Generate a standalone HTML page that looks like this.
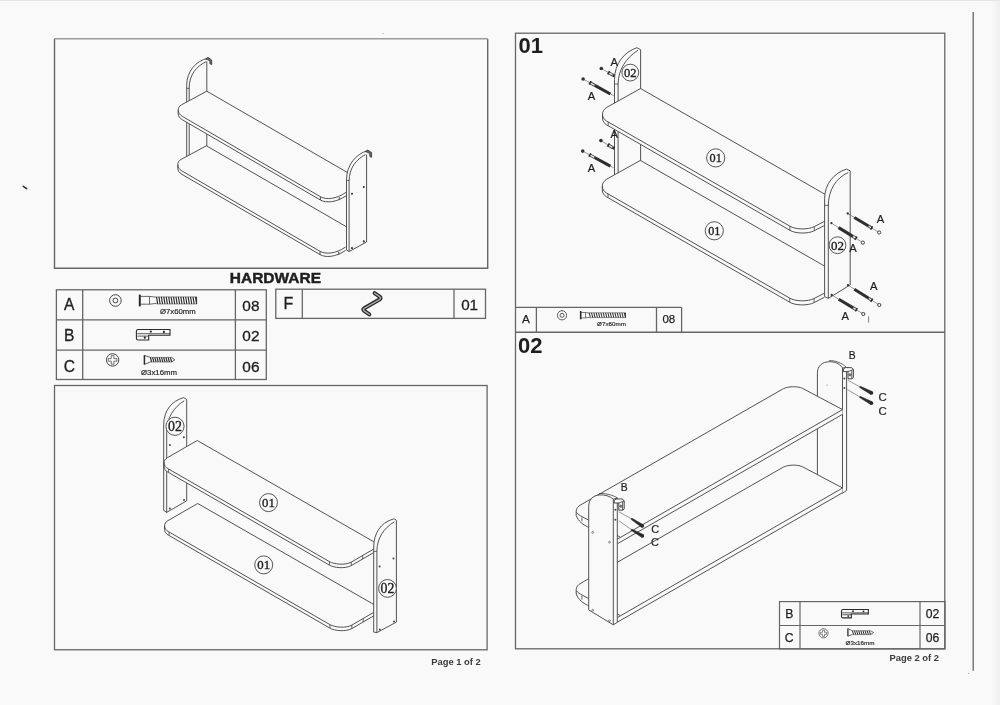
<!DOCTYPE html>
<html><head><meta charset="utf-8"><style>
html,body{margin:0;padding:0;background:#f9f9f9;}
#pg{position:relative;width:1000px;height:705px;overflow:hidden;background:#f9f9f9;filter:grayscale(100%);}
svg{position:absolute;left:0;top:0;}
</style></head><body><div id="pg">
<svg width="1000" height="705" viewBox="0 0 1000 705">
<defs><linearGradient id="rg" x1="0" x2="1" y1="0" y2="0"><stop offset="0" stop-color="#f9f9f9"/><stop offset="1" stop-color="#efefef"/></linearGradient></defs><rect x="991" y="0" width="9" height="705" fill="url(#rg)"/>
<path d="M487.7,38.8 V268.3 H54.5 V38.8" stroke="#666666" stroke-width="1.4" fill="none" />
<line x1="54.5" y1="38.8" x2="487.7" y2="38.8" stroke="#9c9c9c" stroke-width="1.5"/>
<rect x="54.5" y="385.5" width="432.6" height="264.29999999999995" stroke="#666666" stroke-width="1.3" fill="none"/>
<rect x="515.5" y="33.2" width="429.29999999999995" height="615.5999999999999" stroke="#666666" stroke-width="1.3" fill="none"/>
<line x1="515.5" y1="332.3" x2="944.8" y2="332.3" stroke="#666666" stroke-width="1.4"/>
<line x1="973.2" y1="12" x2="973.2" y2="670.8" stroke="#666666" stroke-width="1.3"/>
<text x="518.6" y="52.7" font-family="Liberation Sans" font-size="22" font-weight="bold" text-anchor="start" fill="#1e1e1e" >01</text>
<text x="518.0" y="352.5" font-family="Liberation Sans" font-size="22" font-weight="bold" text-anchor="start" fill="#1e1e1e" >02</text>
<text x="275.4" y="283.0" font-family="Liberation Sans" font-size="15.2" font-weight="bold" text-anchor="middle" fill="#1e1e1e" stroke="#1e1e1e" stroke-width="0.45" textLength="91.2" lengthAdjust="spacingAndGlyphs">HARDWARE</text>
<rect x="56.4" y="289.8" width="209.9" height="89.69999999999999" stroke="#666666" stroke-width="1.3" fill="none"/>
<line x1="82.7" y1="289.8" x2="82.7" y2="379.5" stroke="#666666" stroke-width="1.3"/>
<line x1="235.4" y1="289.8" x2="235.4" y2="379.5" stroke="#666666" stroke-width="1.3"/>
<line x1="56.4" y1="319.8" x2="266.3" y2="319.8" stroke="#666666" stroke-width="1.3"/>
<line x1="56.4" y1="350.1" x2="266.3" y2="350.1" stroke="#666666" stroke-width="1.3"/>
<text x="69.3" y="310.4" font-family="Liberation Sans" font-size="15.6" font-weight="normal" text-anchor="middle" fill="#1e1e1e"  stroke="#1e1e1e" stroke-width="0.3">A</text>
<text x="250.9" y="310.6" font-family="Liberation Sans" font-size="15.4" font-weight="normal" text-anchor="middle" fill="#1e1e1e"  stroke="#1e1e1e" stroke-width="0.3">08</text>
<text x="69.3" y="340.5" font-family="Liberation Sans" font-size="15.6" font-weight="normal" text-anchor="middle" fill="#1e1e1e"  stroke="#1e1e1e" stroke-width="0.3">B</text>
<text x="250.9" y="340.8" font-family="Liberation Sans" font-size="15.4" font-weight="normal" text-anchor="middle" fill="#1e1e1e"  stroke="#1e1e1e" stroke-width="0.3">02</text>
<text x="69.3" y="371.6" font-family="Liberation Sans" font-size="15.6" font-weight="normal" text-anchor="middle" fill="#1e1e1e"  stroke="#1e1e1e" stroke-width="0.3">C</text>
<text x="250.9" y="371.9" font-family="Liberation Sans" font-size="15.4" font-weight="normal" text-anchor="middle" fill="#1e1e1e"  stroke="#1e1e1e" stroke-width="0.3">06</text>
<rect x="275.8" y="289.2" width="209.7" height="29.19999999999999" stroke="#666666" stroke-width="1.3" fill="none"/>
<line x1="302.3" y1="289.2" x2="302.3" y2="318.4" stroke="#666666" stroke-width="1.3"/>
<line x1="454.0" y1="289.2" x2="454.0" y2="318.4" stroke="#666666" stroke-width="1.3"/>
<text x="288.4" y="308.5" font-family="Liberation Sans" font-size="16" font-weight="normal" text-anchor="middle" fill="#1e1e1e"  stroke="#1e1e1e" stroke-width="0.3">F</text>
<text x="469.6" y="309.6" font-family="Liberation Sans" font-size="15.2" font-weight="normal" text-anchor="middle" fill="#1e1e1e"  stroke="#1e1e1e" stroke-width="0.3">01</text>
<circle cx="115.4" cy="300.5" r="5.8" stroke="#333" stroke-width="0.9" fill="none"/>
<circle cx="115.4" cy="300.5" r="2.4" stroke="#333" stroke-width="0.9" fill="none"/>
<path d="M139.8,294.6 V306.4" stroke="#2a2a2a" stroke-width="2.0" fill="none" />
<path d="M139.8,296.4 H149.5 L156.5,297.2 M139.8,304.2 H149.5 L156.5,303.4 M149.5,296.4 V304.2" stroke="#444" stroke-width="0.8" fill="none" />
<path d="M156.50,296.90 H196.60 M156.50,304.00 H196.60" stroke="#555" stroke-width="0.6" fill="none" />
<path d="M156.50,296.90 L157.70,304.00 M158.93,296.90 L160.13,304.00 M161.36,296.90 L162.56,304.00 M163.79,296.90 L164.99,304.00 M166.22,296.90 L167.42,304.00 M168.66,296.90 L169.86,304.00 M171.09,296.90 L172.29,304.00 M173.52,296.90 L174.72,304.00 M175.95,296.90 L177.15,304.00 M178.38,296.90 L179.58,304.00 M180.81,296.90 L182.01,304.00 M183.24,296.90 L184.44,304.00 M185.67,296.90 L186.87,304.00 M188.11,296.90 L189.31,304.00 M190.54,296.90 L191.74,304.00 M192.97,296.90 L194.17,304.00 M195.40,296.90 L196.60,304.00" stroke="#2c2c2c" stroke-width="1.15" fill="none" />
<path d="M196.6,296.9 V304" stroke="#333" stroke-width="1.0" fill="none" />
<text x="177.9" y="313.8" font-family="Liberation Sans" font-size="6.7" font-weight="normal" text-anchor="middle" fill="#1e1e1e" stroke="#222" stroke-width="0.15" textLength="35.7" lengthAdjust="spacingAndGlyphs">Ø7x60mm</text>
<path d="M136.4,331.3 Q136.4,329.5 138.20000000000002,329.5 H170.0 V335.2 H148.70000000000002 V340.0 H138.20000000000002 Q136.4,340.0 136.4,338.2 Z" stroke="#2a2a2a" stroke-width="1.1" fill="none" />
<path d="M137.4,333.7 H170.0 M137.4,336.1 H148.70000000000002" stroke="#333" stroke-width="0.8" fill="none" />
<circle cx="150.8" cy="331.6" r="1.1" fill="#222"/>
<circle cx="163.9" cy="331.9" r="1.1" fill="#222"/>
<circle cx="144.8" cy="337.7" r="1.1" fill="#222"/>
<circle cx="112.6" cy="359.9" r="6.2" stroke="#333" stroke-width="0.9" fill="none"/>
<path d="M111.3,355.6 h2.6 v3 h3 v2.6 h-3 v3 h-2.6 v-3 h-3 v-2.6 h3 Z" stroke="#404040" stroke-width="0.7" fill="none" />
<path d="M144.4,355.2 V364.6" stroke="#2a2a2a" stroke-width="1.5" fill="none" />
<path d="M144.4,355.4 L150.4,357.4 M144.4,364.4 L150.4,362" stroke="#333" stroke-width="0.8" fill="none" />
<path d="M150.40,357.40 H171.60 M150.40,362.00 H171.60" stroke="#555" stroke-width="0.6" fill="none" />
<path d="M150.40,357.40 L151.60,362.00 M152.62,357.40 L153.82,362.00 M154.84,357.40 L156.04,362.00 M157.07,357.40 L158.27,362.00 M159.29,357.40 L160.49,362.00 M161.51,357.40 L162.71,362.00 M163.73,357.40 L164.93,362.00 M165.96,357.40 L167.16,362.00 M168.18,357.40 L169.38,362.00 M170.40,357.40 L171.60,362.00" stroke="#2c2c2c" stroke-width="1.15" fill="none" />
<path d="M171.6,357.4 L174.8,359.8 L171.6,362" stroke="#333" stroke-width="0.8" fill="none" />
<text x="159" y="375.3" font-family="Liberation Sans" font-size="6.8" font-weight="normal" text-anchor="middle" fill="#1e1e1e" stroke="#222" stroke-width="0.15" textLength="36" lengthAdjust="spacingAndGlyphs">Ø3x16mm</text>
<path d="M374.6,293.1 L379.6,296.6 Q381.6,298.2 379.4,299.6 L364.2,308.3 Q362.3,309.6 364.2,310.9 L369.3,314.3" stroke="#262626" stroke-width="4.0" fill="none" stroke-linejoin="round" stroke-linecap="round"/>
<path d="M374.6,293.1 L379.6,296.6 Q381.6,298.2 379.4,299.6 L364.2,308.3 Q362.3,309.6 364.2,310.9 L369.3,314.3" stroke="#a8a8a8" stroke-width="1.5" fill="none" stroke-linejoin="round" stroke-linecap="round"/>
<line x1="515.5" y1="307.3" x2="681.6" y2="307.3" stroke="#666666" stroke-width="1.3"/>
<line x1="536.4" y1="307.3" x2="536.4" y2="332.3" stroke="#666666" stroke-width="1.3"/>
<line x1="656.5" y1="307.3" x2="656.5" y2="332.3" stroke="#666666" stroke-width="1.3"/>
<line x1="681.6" y1="307.3" x2="681.6" y2="332.3" stroke="#666666" stroke-width="1.3"/>
<text x="526" y="323.2" font-family="Liberation Sans" font-size="11.8" font-weight="normal" text-anchor="middle" fill="#1e1e1e"  stroke="#1e1e1e" stroke-width="0.25">A</text>
<text x="668.8" y="323.2" font-family="Liberation Sans" font-size="11.5" font-weight="normal" text-anchor="middle" fill="#1e1e1e"  stroke="#1e1e1e" stroke-width="0.25">08</text>
<circle cx="562" cy="315.3" r="4.6" stroke="#333" stroke-width="0.8" fill="none"/>
<circle cx="562" cy="315.3" r="2.0" stroke="#333" stroke-width="0.8" fill="none"/>
<path d="M580.7,311 V319.3" stroke="#2a2a2a" stroke-width="1.6" fill="none" />
<path d="M580.7,312.5 H585.5 L589.2,313 M580.7,317.9 H585.5 L589.2,317.4 M585.5,312.5 V317.9" stroke="#444" stroke-width="0.7" fill="none" />
<path d="M589.20,312.80 H625.50 M589.20,317.60 H625.50" stroke="#555" stroke-width="0.6" fill="none" />
<path d="M589.20,312.80 L590.40,317.60 M591.54,312.80 L592.74,317.60 M593.88,312.80 L595.08,317.60 M596.22,312.80 L597.42,317.60 M598.56,312.80 L599.76,317.60 M600.90,312.80 L602.10,317.60 M603.24,312.80 L604.44,317.60 M605.58,312.80 L606.78,317.60 M607.92,312.80 L609.12,317.60 M610.26,312.80 L611.46,317.60 M612.60,312.80 L613.80,317.60 M614.94,312.80 L616.14,317.60 M617.28,312.80 L618.48,317.60 M619.62,312.80 L620.82,317.60 M621.96,312.80 L623.16,317.60 M624.30,312.80 L625.50,317.60" stroke="#2c2c2c" stroke-width="1.0" fill="none" />
<path d="M625.5,312.8 V317.6" stroke="#333" stroke-width="0.9" fill="none" />
<text x="611.5" y="326.3" font-family="Liberation Sans" font-size="5.8" font-weight="normal" text-anchor="middle" fill="#1e1e1e" stroke="#222" stroke-width="0.15" textLength="28.8" lengthAdjust="spacingAndGlyphs">Ø7x60mm</text>
<rect x="779.5" y="601.6" width="165.5" height="47.299999999999955" stroke="#666666" stroke-width="1.2" fill="none"/>
<line x1="800" y1="601.6" x2="800" y2="648.9" stroke="#666666" stroke-width="1.2"/>
<line x1="920" y1="601.6" x2="920" y2="648.9" stroke="#666666" stroke-width="1.2"/>
<line x1="779.5" y1="625.5" x2="945" y2="625.5" stroke="#666666" stroke-width="1.2"/>
<text x="789.2" y="617.8" font-family="Liberation Sans" font-size="12.2" font-weight="normal" text-anchor="middle" fill="#1e1e1e"  stroke="#1e1e1e" stroke-width="0.25">B</text>
<text x="789.2" y="641.9" font-family="Liberation Sans" font-size="12.2" font-weight="normal" text-anchor="middle" fill="#1e1e1e"  stroke="#1e1e1e" stroke-width="0.25">C</text>
<text x="932.6" y="617.8" font-family="Liberation Sans" font-size="12.2" font-weight="normal" text-anchor="middle" fill="#1e1e1e"  stroke="#1e1e1e" stroke-width="0.25">02</text>
<text x="932.6" y="641.9" font-family="Liberation Sans" font-size="12.2" font-weight="normal" text-anchor="middle" fill="#1e1e1e"  stroke="#1e1e1e" stroke-width="0.25">06</text>
<path d="M841.5,610.94 Q841.5,609.5 842.94,609.5 H868.38 V614.06 H851.34 V617.9 H842.94 Q841.5,617.9 841.5,616.46 Z" stroke="#2a2a2a" stroke-width="1.1" fill="none" />
<path d="M842.3,612.86 H868.38 M842.3,614.78 H851.34" stroke="#333" stroke-width="0.8" fill="none" />
<circle cx="853.02" cy="611.18" r="0.8800000000000001" fill="#222"/>
<circle cx="863.5" cy="611.42" r="0.8800000000000001" fill="#222"/>
<circle cx="848.22" cy="616.06" r="0.8800000000000001" fill="#222"/>
<circle cx="823.5" cy="633.3" r="4.6" stroke="#404040" stroke-width="0.7" fill="none"/>
<path d="M822.5,630.2 h2 v2.1 h2.1 v2 h-2.1 v2.1 h-2 v-2.1 h-2.1 v-2 h2.1 Z" stroke="#404040" stroke-width="0.6" fill="none" />
<path d="M847.9,628.4 V636.2" stroke="#2a2a2a" stroke-width="1.3" fill="none" />
<path d="M847.9,628.6 L852.4,630.7 M847.9,636 L852.4,634.6" stroke="#333" stroke-width="0.7" fill="none" />
<path d="M852.40,630.70 H870.50 M852.40,634.60 H870.50" stroke="#555" stroke-width="0.6" fill="none" />
<path d="M852.40,630.70 L853.60,634.60 M854.51,630.70 L855.71,634.60 M856.62,630.70 L857.83,634.60 M858.74,630.70 L859.94,634.60 M860.85,630.70 L862.05,634.60 M862.96,630.70 L864.16,634.60 M865.08,630.70 L866.28,634.60 M867.19,630.70 L868.39,634.60 M869.30,630.70 L870.50,634.60" stroke="#2c2c2c" stroke-width="1.0" fill="none" />
<path d="M870.5,630.7 L873.6,632.6 L870.5,634.6" stroke="#333" stroke-width="0.7" fill="none" />
<text x="860" y="645.2" font-family="Liberation Sans" font-size="5.8" font-weight="normal" text-anchor="middle" fill="#1e1e1e" stroke="#222" stroke-width="0.15" textLength="28.9" lengthAdjust="spacingAndGlyphs">Ø3x16mm</text>
<text x="456" y="664.6" font-family="Liberation Sans" font-size="9.4" font-weight="bold" text-anchor="middle" fill="#3a3a3a" >Page 1 of 2</text>
<text x="914.2" y="660.8" font-family="Liberation Sans" font-size="9.4" font-weight="bold" text-anchor="middle" fill="#3a3a3a" >Page 2 of 2</text>
<path d="M186.7,166 V85.5 C186.7,71 196,61 207.7,58.2" stroke="#404040" stroke-width="0.9" fill="none" />
<path d="M189.2,166 V87.8 C189.2,75 196.5,66 206.2,61.7" stroke="#404040" stroke-width="0.9" fill="none" />
<path d="M186.7,88.3 H189.2" stroke="#404040" stroke-width="0.8" fill="none" />
<path d="M206.8,61.5 V150" stroke="#404040" stroke-width="0.9" fill="none" />
<path d="M205.6,59 L207.9,57.4 L211.7,60 V64.6 L209.9,63.8 V60.9 L207.6,59.8 Z" stroke="#333" stroke-width="0.8" fill="#6a6a6a" />
<path d="M206.8,91.2 L181.5,104.8 C179.0,106.2 178.2,108.0 178.2,110.2 L178.2,113.6 C178.2,115.9 179.5,118.2 182.4,119.8 L320.4,200.0 C326.0,203.2 336.0,202.6 346.0,195.8 L347.1,172.3 Z" stroke="none" stroke-width="0" fill="#f9f9f9" />
<path d="M347.1,172.3 L206.8,91.2 L181.5,104.8 C179.0,106.2 178.2,108.0 178.2,110.2 C178.2,112.5 179.5,114.8 182.4,116.4 L320.4,196.7 C326.0,199.9 336.0,199.3 346.0,192.4" stroke="#404040" stroke-width="0.9" fill="none" />
<path d="M178.2,110.2 L178.2,113.6 C178.2,115.9 179.5,118.2 182.4,119.8 L320.4,200.0 C326.0,203.2 336.0,202.6 346.0,195.8" stroke="#404040" stroke-width="0.9" fill="none" />
<path d="M320.4,196.7 L320.4,200.0 M339.2,197.0 L339.2,200.2" stroke="#404040" stroke-width="0.9" fill="none" />
<path d="M206.4,145.8 L181.1,159.4 C178.6,160.8 177.8,162.6 177.8,164.8 L177.8,168.2 C177.8,170.5 179.1,172.8 182.0,174.4 L320.0,254.6 C325.6,257.8 335.6,257.2 345.6,250.4 L346.7,226.9 Z" stroke="none" stroke-width="0" fill="#f9f9f9" />
<path d="M346.7,226.9 L206.4,145.8 L181.1,159.4 C178.6,160.8 177.8,162.6 177.8,164.8 C177.8,167.1 179.1,169.4 182.0,171.0 L320.0,251.3 C325.6,254.5 335.6,253.9 345.6,247.0" stroke="#404040" stroke-width="0.9" fill="none" />
<path d="M177.8,164.8 L177.8,168.2 C177.8,170.5 179.1,172.8 182.0,174.4 L320.0,254.6 C325.6,257.8 335.6,257.2 345.6,250.4" stroke="#404040" stroke-width="0.9" fill="none" />
<path d="M320.0,251.3 L320.0,254.6 M338.8,251.6 L338.8,254.8" stroke="#404040" stroke-width="0.9" fill="none" />
<path d="M346.5,250 V179.8 C346.5,165 356,154 367.3,150.7 L366.6,154.6 V242 L349.1,251.5 Z" stroke="none" stroke-width="0" fill="#f9f9f9" />
<path d="M346.5,250 V179.8 C346.5,165 356,154 367.3,150.7" stroke="#404040" stroke-width="0.9" fill="none" />
<path d="M349.1,251.5 V181.2 C349.1,168 356.5,159 365.5,154.6" stroke="#404040" stroke-width="0.9" fill="none" />
<path d="M366.6,154.6 V242 L349.1,251.5 L346.5,250" stroke="#404040" stroke-width="0.9" fill="none" />
<path d="M346.5,180.5 H349.1" stroke="#404040" stroke-width="0.8" fill="none" />
<path d="M365.4,151.6 L367.7,150 L371.6,152.6 V157.3 L369.8,156.5 V153.5 L367.5,152.4 Z" stroke="#333" stroke-width="0.8" fill="#6a6a6a" />
<circle cx="363.8" cy="187" r="1.05" fill="#333"/>
<circle cx="352" cy="193.8" r="1.05" fill="#333"/>
<circle cx="363.8" cy="241.4" r="1.05" fill="#333"/>
<circle cx="352" cy="248.1" r="1.05" fill="#333"/>
<path d="M163.7,510.4 V425 C163.7,410 172,401 183.5,397.6 L186.7,399.4 V500.8 L166.7,512.4 Z" stroke="none" stroke-width="0" fill="#f9f9f9" />
<path d="M163.7,510.4 V425 C163.7,410 172,401 183.5,397.6" stroke="#404040" stroke-width="0.9" fill="none" />
<path d="M166.7,512.4 V431.3 C166.7,418 174,407 184.2,400.8" stroke="#404040" stroke-width="0.9" fill="none" />
<path d="M183.5,397.6 L186.7,399.4 V500.8 L166.7,512.4 L163.7,510.4" stroke="#404040" stroke-width="0.9" fill="none" />
<circle cx="183.8" cy="437.2" r="1.0" fill="#444"/>
<circle cx="169.9" cy="445.1" r="1.0" fill="#444"/>
<circle cx="184" cy="500" r="1.0" fill="#444"/>
<circle cx="169.9" cy="508.5" r="1.0" fill="#444"/>
<path d="M197.2,440.5 L167.5,457.6 C165.0,459.0 164.1,460.8 164.1,463.0 L164.1,466.5 C164.1,469.0 165.5,471.0 168.4,472.4 L329.4,565.1 C334.0,567.8 345.0,569.0 351.3,565.6 L373.7,552.6 L373.7,541.7 Z" stroke="none" stroke-width="0" fill="#f9f9f9" />
<path d="M373.7,541.7 L197.2,440.5 L167.5,457.6 C165.0,459.0 164.1,460.8 164.1,463.0 C164.1,465.5 165.5,467.5 168.4,468.9 L329.4,561.6 C334.0,564.3 345.0,565.5 351.3,562.1 L373.7,549.1" stroke="#404040" stroke-width="0.9" fill="none" />
<path d="M164.1,463.0 L164.1,466.5 C164.1,469.0 165.5,471.0 168.4,472.4 L329.4,565.1 C334.0,567.8 345.0,569.0 351.3,565.6 L373.7,552.6" stroke="#404040" stroke-width="0.9" fill="none" />
<path d="M329.4,561.6 L329.4,565.1 M351.3,562.1 L351.3,565.6 M362.7,555.6 L362.7,559.1 M168.6,469.0 L168.6,472.4" stroke="#404040" stroke-width="0.8" fill="none" />
<path d="M197.7,503.5 L168.0,520.6 C165.5,522.0 164.6,523.8 164.6,526.0 L164.6,529.5 C164.6,532.0 166.0,534.0 168.9,535.4 L329.9,628.1 C334.5,630.8 345.5,632.0 351.8,628.6 L374.2,615.6 L374.2,604.7 Z" stroke="none" stroke-width="0" fill="#f9f9f9" />
<path d="M374.2,604.7 L197.7,503.5 L168.0,520.6 C165.5,522.0 164.6,523.8 164.6,526.0 C164.6,528.5 166.0,530.5 168.9,531.9 L329.9,624.6 C334.5,627.3 345.5,628.5 351.8,625.1 L374.2,612.1" stroke="#404040" stroke-width="0.9" fill="none" />
<path d="M164.6,526.0 L164.6,529.5 C164.6,532.0 166.0,534.0 168.9,535.4 L329.9,628.1 C334.5,630.8 345.5,632.0 351.8,628.6 L374.2,615.6" stroke="#404040" stroke-width="0.9" fill="none" />
<path d="M329.9,624.6 L329.9,628.1 M351.8,625.1 L351.8,628.6 M363.2,618.6 L363.2,622.1 M169.1,532.0 L169.1,535.4" stroke="#404040" stroke-width="0.8" fill="none" />
<path d="M373.7,632.1 V547 C373.7,533 381,523 392.1,519.4 C394,518.6 395.8,519.2 396.4,520.6 V622.1 L376.9,632.6 Z" stroke="none" stroke-width="0" fill="#f9f9f9" />
<path d="M373.7,632.1 V547 C373.7,533 381,523 392.1,519.4 C394,518.6 395.8,519.2 396.4,520.6" stroke="#404040" stroke-width="0.9" fill="none" />
<path d="M376.9,632.6 V551.6 C376.9,538 384,528 394.2,521.9" stroke="#404040" stroke-width="0.9" fill="none" />
<path d="M396.4,520.4 V622.1 L376.9,632.6 L373.7,632.1" stroke="#404040" stroke-width="0.9" fill="none" />
<path d="M373.7,551.4 H376.9" stroke="#404040" stroke-width="0.8" fill="none" />
<circle cx="393.5" cy="558.6" r="1.0" fill="#444"/>
<circle cx="379.6" cy="566.6" r="1.0" fill="#444"/>
<circle cx="394" cy="621.6" r="1.0" fill="#444"/>
<circle cx="379.8" cy="629.6" r="1.0" fill="#444"/>
<circle cx="175" cy="426.3" r="9.1" stroke="#444" stroke-width="0.9" fill="#f9f9f9"/>
<text x="175" y="430.992" font-family="Liberation Serif" font-size="13.8" font-weight="normal" text-anchor="middle" fill="#1e1e1e" stroke="#1e1e1e" stroke-width="0.35">02</text>
<circle cx="387.5" cy="588.4" r="8.9" stroke="#444" stroke-width="0.9" fill="#f9f9f9"/>
<text x="387.5" y="593.092" font-family="Liberation Serif" font-size="13.8" font-weight="normal" text-anchor="middle" fill="#1e1e1e" stroke="#1e1e1e" stroke-width="0.35">02</text>
<circle cx="268.5" cy="502.6" r="9.0" stroke="#444" stroke-width="0.9" fill="#f9f9f9"/>
<text x="268.5" y="506.952" font-family="Liberation Serif" font-size="12.8" font-weight="normal" text-anchor="middle" fill="#1e1e1e" stroke="#1e1e1e" stroke-width="0.35">01</text>
<circle cx="263.7" cy="564.9" r="9.0" stroke="#444" stroke-width="0.9" fill="#f9f9f9"/>
<text x="263.7" y="569.252" font-family="Liberation Serif" font-size="12.8" font-weight="normal" text-anchor="middle" fill="#1e1e1e" stroke="#1e1e1e" stroke-width="0.35">01</text>
<path d="M614.5,176 V79.5 C614.5,64 624,52 636.9,47.7 L640.4,49.6 V170 L618,176 Z" stroke="none" stroke-width="0" fill="#f9f9f9" />
<path d="M614.5,176 V79.5 C614.5,64 624,52 636.9,47.7" stroke="#404040" stroke-width="0.9" fill="none" />
<path d="M618.1,176 V84 C618.1,70 626,58 638,50.2" stroke="#404040" stroke-width="0.9" fill="none" />
<path d="M636.9,47.7 L640.6,49.7 V165" stroke="#404040" stroke-width="0.9" fill="none" />
<path d="M614.5,84 H618.1" stroke="#404040" stroke-width="0.8" fill="none" />
<path d="M640.6,88.5 L607.0,107.2 C604.0,109.0 602.5,111.5 602.5,114.3 L602.5,118.1 C602.5,120.8 604.0,123.3 606.5,124.8 L789.9,230.3 C795.0,233.6 808.0,234.1 814.3,230.7 L824.6,225.4 L825.5,194.6 Z" stroke="none" stroke-width="0" fill="#f9f9f9" />
<path d="M825.5,194.6 L640.6,88.5 L607.0,107.2 C604.0,109.0 602.5,111.5 602.5,114.3 C602.5,117.0 604.0,119.5 606.5,121.0 L789.9,226.2 C795.0,229.5 808.0,230.0 814.3,226.6 L824.6,221.3" stroke="#404040" stroke-width="0.9" fill="none" />
<path d="M602.5,114.3 L602.5,118.1 C602.5,120.8 604.0,123.3 606.5,124.8 L789.9,230.3 C795.0,233.6 808.0,234.1 814.3,230.7 L824.6,225.4" stroke="#404040" stroke-width="0.9" fill="none" />
<path d="M789.9,226.2 L789.9,230.3 M814.3,226.6 L814.3,230.7 M608.2,121.8 L608.2,125.6" stroke="#404040" stroke-width="0.8" fill="none" />
<path d="M640.4,160.4 L606.8,179.1 C603.8,180.9 602.3,183.4 602.3,186.2 L602.3,190.0 C602.3,192.7 603.8,195.2 606.3,196.7 L789.7,302.2 C794.8,305.5 807.8,306.0 814.1,302.6 L824.4,297.3 L825.3,266.5 Z" stroke="none" stroke-width="0" fill="#f9f9f9" />
<path d="M825.3,266.5 L640.4,160.4 L606.8,179.1 C603.8,180.9 602.3,183.4 602.3,186.2 C602.3,188.9 603.8,191.4 606.3,192.9 L789.7,298.1 C794.8,301.4 807.8,301.9 814.1,298.5 L824.4,293.2" stroke="#404040" stroke-width="0.9" fill="none" />
<path d="M602.3,186.2 L602.3,190.0 C602.3,192.7 603.8,195.2 606.3,196.7 L789.7,302.2 C794.8,305.5 807.8,306.0 814.1,302.6 L824.4,297.3" stroke="#404040" stroke-width="0.9" fill="none" />
<path d="M789.7,298.1 L789.7,302.2 M814.1,298.5 L814.1,302.6 M608.0,193.7 L608.0,197.5" stroke="#404040" stroke-width="0.8" fill="none" />
<path d="M824.6,296.6 V198.6 C824.6,184 834,173 846.5,169.1 L849.9,170.8 V284.9 L828.3,298.4 Z" stroke="none" stroke-width="0" fill="#f9f9f9" />
<path d="M824.6,296.6 V198.6 C824.6,184 834,173 846.5,169.1" stroke="#404040" stroke-width="0.9" fill="none" />
<path d="M828.3,298.4 V206 C828.3,190 836,178 848.2,172.5" stroke="#404040" stroke-width="0.9" fill="none" />
<path d="M846.5,169.1 L850.2,170.8 V284.9 L828.3,298.4 L824.6,296.6" stroke="#404040" stroke-width="0.9" fill="none" />
<path d="M824.6,205.3 H828.3" stroke="#404040" stroke-width="0.8" fill="none" />
<circle cx="630.3" cy="72.6" r="8.4" stroke="#444" stroke-width="0.9" fill="#f9f9f9"/>
<text x="630.3" y="76.884" font-family="Liberation Serif" font-size="12.6" font-weight="normal" text-anchor="middle" fill="#1e1e1e" stroke="#1e1e1e" stroke-width="0.35">02</text>
<circle cx="837.5" cy="245.2" r="8.4" stroke="#444" stroke-width="0.9" fill="#f9f9f9"/>
<text x="837.5" y="249.61999999999998" font-family="Liberation Serif" font-size="13" font-weight="normal" text-anchor="middle" fill="#1e1e1e" stroke="#1e1e1e" stroke-width="0.35">02</text>
<circle cx="715.7" cy="157.9" r="9.1" stroke="#444" stroke-width="0.9" fill="#f9f9f9"/>
<text x="715.7" y="162.048" font-family="Liberation Serif" font-size="12.2" font-weight="normal" text-anchor="middle" fill="#1e1e1e" stroke="#1e1e1e" stroke-width="0.35">01</text>
<circle cx="714.3" cy="230.8" r="9.1" stroke="#444" stroke-width="0.9" fill="#f9f9f9"/>
<text x="714.3" y="234.948" font-family="Liberation Serif" font-size="12.2" font-weight="normal" text-anchor="middle" fill="#1e1e1e" stroke="#1e1e1e" stroke-width="0.35">01</text>
<line x1="614.4" y1="76.0" x2="601.3" y2="68.5" stroke="#555" stroke-width="0.6"/>
<line x1="614.4" y1="76.0" x2="612.8" y2="75.1" stroke="#2e2e2e" stroke-width="3.0"/>
<line x1="612.8" y1="75.1" x2="608.6" y2="72.7" stroke="#3a3a3a" stroke-width="3.0"/>
<line x1="612.5" y1="74.9" x2="609.0" y2="72.9" stroke="#f2f2f2" stroke-width="1.3"/>
<line x1="607.7" y1="74.3" x2="609.6" y2="71.1" stroke="#2e2e2e" stroke-width="1.6"/>
<circle cx="601.3" cy="68.5" r="1.8" fill="#333"/>
<line x1="613.8" y1="95.8" x2="583.1" y2="79.0" stroke="#555" stroke-width="0.6"/>
<line x1="610.4" y1="94.0" x2="594.8" y2="85.4" stroke="#2e2e2e" stroke-width="3.0"/>
<line x1="594.8" y1="85.4" x2="590.2" y2="82.9" stroke="#3a3a3a" stroke-width="3.0"/>
<line x1="594.4" y1="85.2" x2="590.5" y2="83.1" stroke="#f2f2f2" stroke-width="1.3"/>
<line x1="589.2" y1="84.5" x2="591.1" y2="81.2" stroke="#2e2e2e" stroke-width="1.6"/>
<circle cx="583.1" cy="79.0" r="1.8" fill="#333"/>
<line x1="614.3" y1="148.6" x2="600.9" y2="140.6" stroke="#555" stroke-width="0.6"/>
<line x1="614.3" y1="148.6" x2="612.7" y2="147.6" stroke="#2e2e2e" stroke-width="3.0"/>
<line x1="612.7" y1="147.6" x2="608.4" y2="145.1" stroke="#3a3a3a" stroke-width="3.0"/>
<line x1="612.3" y1="147.4" x2="608.7" y2="145.3" stroke="#f2f2f2" stroke-width="1.3"/>
<line x1="607.4" y1="146.7" x2="609.4" y2="143.4" stroke="#2e2e2e" stroke-width="1.6"/>
<circle cx="600.9" cy="140.6" r="1.8" fill="#333"/>
<line x1="613.8" y1="167.9" x2="582.7" y2="151.1" stroke="#555" stroke-width="0.6"/>
<line x1="610.4" y1="166.1" x2="594.5" y2="157.5" stroke="#2e2e2e" stroke-width="3.0"/>
<line x1="594.5" y1="157.5" x2="589.9" y2="155.0" stroke="#3a3a3a" stroke-width="3.0"/>
<line x1="594.2" y1="157.3" x2="590.2" y2="155.2" stroke="#f2f2f2" stroke-width="1.3"/>
<line x1="588.9" y1="156.6" x2="590.8" y2="153.3" stroke="#2e2e2e" stroke-width="1.6"/>
<circle cx="582.7" cy="151.1" r="1.8" fill="#333"/>
<line x1="847.7" y1="213.5" x2="879.2" y2="232.5" stroke="#555" stroke-width="0.6"/>
<line x1="854.3" y1="217.5" x2="868.5" y2="226.0" stroke="#2e2e2e" stroke-width="3.0"/>
<line x1="868.5" y1="226.0" x2="871.6" y2="227.9" stroke="#3a3a3a" stroke-width="3.0"/>
<line x1="868.8" y1="226.2" x2="871.3" y2="227.7" stroke="#f2f2f2" stroke-width="1.3"/>
<line x1="872.6" y1="226.3" x2="870.7" y2="229.6" stroke="#2e2e2e" stroke-width="1.6"/>
<circle cx="879.2" cy="232.5" r="1.6" stroke="#333" stroke-width="0.9" fill="#f9f9f9"/>
<circle cx="847.7" cy="213.5" r="1.15" fill="#333"/>
<line x1="831.4" y1="223.1" x2="862.9" y2="242.6" stroke="#555" stroke-width="0.6"/>
<line x1="838.6" y1="227.6" x2="852.8" y2="236.4" stroke="#2e2e2e" stroke-width="3.0"/>
<line x1="852.8" y1="236.4" x2="856.0" y2="238.3" stroke="#3a3a3a" stroke-width="3.0"/>
<line x1="853.2" y1="236.6" x2="855.6" y2="238.1" stroke="#f2f2f2" stroke-width="1.3"/>
<line x1="857.0" y1="236.7" x2="855.0" y2="239.9" stroke="#2e2e2e" stroke-width="1.6"/>
<circle cx="862.9" cy="242.6" r="1.6" stroke="#333" stroke-width="0.9" fill="#f9f9f9"/>
<circle cx="831.4" cy="223.1" r="1.15" fill="#333"/>
<line x1="848.0" y1="285.2" x2="879.3" y2="305.0" stroke="#555" stroke-width="0.6"/>
<line x1="854.3" y1="289.2" x2="868.7" y2="298.3" stroke="#2e2e2e" stroke-width="3.0"/>
<line x1="868.7" y1="298.3" x2="871.8" y2="300.2" stroke="#3a3a3a" stroke-width="3.0"/>
<line x1="869.0" y1="298.5" x2="871.4" y2="300.0" stroke="#f2f2f2" stroke-width="1.3"/>
<line x1="872.8" y1="298.6" x2="870.8" y2="301.9" stroke="#2e2e2e" stroke-width="1.6"/>
<circle cx="879.3" cy="305.0" r="1.6" stroke="#333" stroke-width="0.9" fill="#f9f9f9"/>
<circle cx="848.0" cy="285.2" r="1.15" fill="#333"/>
<line x1="831.7" y1="295.0" x2="863.3" y2="314.0" stroke="#555" stroke-width="0.6"/>
<line x1="838.7" y1="299.2" x2="853.2" y2="307.9" stroke="#2e2e2e" stroke-width="3.0"/>
<line x1="853.2" y1="307.9" x2="856.3" y2="309.8" stroke="#3a3a3a" stroke-width="3.0"/>
<line x1="853.5" y1="308.1" x2="856.0" y2="309.6" stroke="#f2f2f2" stroke-width="1.3"/>
<line x1="857.3" y1="308.2" x2="855.4" y2="311.4" stroke="#2e2e2e" stroke-width="1.6"/>
<circle cx="863.3" cy="314.0" r="1.6" stroke="#333" stroke-width="0.9" fill="#f9f9f9"/>
<circle cx="831.7" cy="295.0" r="1.15" fill="#333"/>
<text x="614.2" y="65.6" font-family="Liberation Sans" font-size="11.2" font-weight="normal" text-anchor="middle" fill="#1e1e1e"  stroke="#1e1e1e" stroke-width="0.2">A</text>
<text x="591.6" y="100.4" font-family="Liberation Sans" font-size="11.2" font-weight="normal" text-anchor="middle" fill="#1e1e1e"  stroke="#1e1e1e" stroke-width="0.2">A</text>
<text x="614.2" y="137.6" font-family="Liberation Sans" font-size="11.2" font-weight="normal" text-anchor="middle" fill="#1e1e1e"  stroke="#1e1e1e" stroke-width="0.2">A</text>
<text x="591.5" y="172.0" font-family="Liberation Sans" font-size="11.2" font-weight="normal" text-anchor="middle" fill="#1e1e1e"  stroke="#1e1e1e" stroke-width="0.2">A</text>
<text x="880.6" y="223.4" font-family="Liberation Sans" font-size="11.2" font-weight="normal" text-anchor="middle" fill="#1e1e1e"  stroke="#1e1e1e" stroke-width="0.2">A</text>
<text x="853" y="251.6" font-family="Liberation Sans" font-size="11.2" font-weight="normal" text-anchor="middle" fill="#1e1e1e"  stroke="#1e1e1e" stroke-width="0.2">A</text>
<text x="873.8" y="290.2" font-family="Liberation Sans" font-size="11.2" font-weight="normal" text-anchor="middle" fill="#1e1e1e"  stroke="#1e1e1e" stroke-width="0.2">A</text>
<text x="845.2" y="319.8" font-family="Liberation Sans" font-size="11.2" font-weight="normal" text-anchor="middle" fill="#1e1e1e"  stroke="#1e1e1e" stroke-width="0.2">A</text>
<line x1="868.6" y1="316.2" x2="868.6" y2="322.7" stroke="#666" stroke-width="0.8"/>
<path d="M817.4,480 V373.4 C817.4,366 822,361.7 829.9,361.7 C834,361.7 839,363 842.5,367.8 V492 Z" stroke="none" stroke-width="0" fill="#f9f9f9" />
<path d="M817.4,480 V373.4 C817.4,366 822,361.7 829.9,361.7 C834,361.7 839,363 842.5,367.8" stroke="#404040" stroke-width="0.9" fill="none" />
<path d="M829.2,360.6 C834,360.4 842,362.4 846.6,367.6 M842.5,367.8 L846.6,367.6" stroke="#404040" stroke-width="0.8" fill="none" />
<path d="M842.5,367.8 V493.2 L846.6,490.4 V372" stroke="#404040" stroke-width="0.9" fill="none" />
<circle cx="827" cy="385.1" r="0.6" fill="#777"/>
<path d="M620.0,537.0 L580.0,515.2 C576.5,513.0 576.2,512.0 576.2,511.2 C576.2,508.5 578.0,506.3 581.0,504.7 L783.5,388.6 C788.0,386.5 797.0,385.8 802.6,388.4 L842.6,409.6 L842.6,414.3 L617.5,543.7 L588.4,527.2 C583.0,525.0 578.0,521.0 576.2,515.5 Z" stroke="none" stroke-width="0" fill="#f9f9f9" />
<path d="M842.6,409.6 L802.6,388.4 C797.0,385.8 788.0,386.5 783.5,388.6 L581.0,504.7 C578.0,506.3 576.2,508.5 576.2,511.2 L576.2,515.5 C578.0,521.0 583.0,525.0 590.0,528.0" stroke="#404040" stroke-width="0.9" fill="none" />
<path d="M576.6,512.4 C578.0,514.5 580.0,515.5 582.0,516.6 L620.0,537.0" stroke="#404040" stroke-width="0.9" fill="none" />
<path d="M581.9,517.4 L581.9,521.3" stroke="#404040" stroke-width="0.8" fill="none" />
<path d="M617.5,539.1 L842.6,409.6 M617.5,543.7 L842.6,414.3" stroke="#404040" stroke-width="0.9" fill="none" />
<path d="M620.0,615.4 L580.0,593.6 C576.5,591.4 576.2,590.4 576.2,589.6 C576.2,586.9 578.0,584.7 581.0,583.1 L783.5,467.0 C788.0,464.9 797.0,464.2 802.6,466.8 L842.6,488.0 L842.6,492.7 L617.5,622.1 L588.4,605.6 C583.0,603.4 578.0,599.4 576.2,593.9 Z" stroke="none" stroke-width="0" fill="#f9f9f9" />
<path d="M842.6,488.0 L802.6,466.8 C797.0,464.2 788.0,464.9 783.5,467.0 L581.0,583.1 C578.0,584.7 576.2,586.9 576.2,589.6 L576.2,593.9 C578.0,599.4 583.0,603.4 590.0,606.4" stroke="#404040" stroke-width="0.9" fill="none" />
<path d="M576.6,590.8 C578.0,592.9 580.0,593.9 582.0,595.0 L620.0,615.4" stroke="#404040" stroke-width="0.9" fill="none" />
<path d="M581.9,595.8 L581.9,599.7" stroke="#404040" stroke-width="0.8" fill="none" />
<path d="M617.5,617.5 L842.6,488.0 M617.5,622.1 L842.6,492.7" stroke="#404040" stroke-width="0.9" fill="none" />
<path d="M588.7,609.9 V506.3 C588.7,500 592.5,495.4 599.8,494.9 C604.5,494.6 610,496 613.3,499.2 V624.8 Z" stroke="none" stroke-width="0" fill="#f9f9f9" />
<path d="M613.3,499.2 L617.3,498 V622.4 L613.3,624.8 Z" stroke="none" stroke-width="0" fill="#f9f9f9" />
<path d="M588.7,609.9 V506.3 C588.7,500 592.5,495.4 599.8,494.9 C604.5,494.6 610,496 613.3,499.2" stroke="#404040" stroke-width="0.9" fill="none" />
<path d="M599,493.6 C604,493 612,494.5 617.6,498" stroke="#404040" stroke-width="0.8" fill="none" />
<path d="M613.3,499.2 V624.8 M617.3,498 V622.4 M588.7,609.9 L613.3,624.8 L617.3,622.4 M613.3,499.2 L617.3,498" stroke="#404040" stroke-width="0.9" fill="none" />
<circle cx="592.7" cy="532.4" r="0.9" stroke="#444" stroke-width="0.6" fill="none"/>
<circle cx="609.5" cy="542.2" r="0.9" stroke="#444" stroke-width="0.6" fill="none"/>
<circle cx="592.7" cy="610.2" r="0.9" stroke="#444" stroke-width="0.6" fill="none"/>
<circle cx="609.5" cy="620.7" r="0.9" stroke="#444" stroke-width="0.6" fill="none"/>
<circle cx="615.4" cy="509.7" r="1.0" fill="#444"/>
<circle cx="615.4" cy="519.7" r="1.0" fill="#444"/>
<circle cx="844.4" cy="378.4" r="1.0" fill="#444"/>
<circle cx="844.4" cy="388" r="1.0" fill="#444"/>
<path d="M614.2,500.2 L616.4000000000001,499.0 H622.2 L624.2,500.8 V509.0 L622.6,510.2 H618.8000000000001 V503.0 H614.2 Z" stroke="#333" stroke-width="0.9" fill="#f9f9f9" />
<path d="M618.8000000000001,503.0 L622.6,501.6 M622.6,501.6 V510.2 M622.6,501.6 L624.2,500.8" stroke="#333" stroke-width="0.8" fill="none" />
<circle cx="620.8000000000001" cy="506.2" r="1.1" stroke="#333" stroke-width="0.8" fill="none"/>
<circle cx="620.8000000000001" cy="506.2" r="0.5" fill="#333"/>
<path d="M843.4,368.8 L845.6,367.6 H851.4 L853.4,369.40000000000003 V377.6 L851.8,378.8 H848.0 V371.6 H843.4 Z" stroke="#333" stroke-width="0.9" fill="#f9f9f9" />
<path d="M848.0,371.6 L851.8,370.20000000000005 M851.8,370.20000000000005 V378.8 M851.8,370.20000000000005 L853.4,369.40000000000003" stroke="#333" stroke-width="0.8" fill="none" />
<circle cx="850.0" cy="374.8" r="1.1" stroke="#333" stroke-width="0.8" fill="none"/>
<circle cx="850.0" cy="374.8" r="0.5" fill="#333"/>
<text x="624.1" y="491.4" font-family="Liberation Sans" font-size="10.3" font-weight="normal" text-anchor="middle" fill="#1e1e1e"  stroke="#1e1e1e" stroke-width="0.2">B</text>
<text x="852.3" y="359.2" font-family="Liberation Sans" font-size="10.3" font-weight="normal" text-anchor="middle" fill="#1e1e1e"  stroke="#1e1e1e" stroke-width="0.2">B</text>
<line x1="618.9" y1="511.8" x2="631.3" y2="518.7" stroke="#555" stroke-width="0.6"/>
<path d="M630.92,519.28 L641.52,527.34 L643.28,524.66 L631.68,518.12 Z" stroke="#2a2a2a" stroke-width="0.5" fill="#2a2a2a" />
<circle cx="642.4" cy="526.0" r="1.8" fill="#2a2a2a"/>
<line x1="618.9" y1="520.7" x2="631.3" y2="529.6" stroke="#555" stroke-width="0.6"/>
<path d="M630.95,530.21 L641.61,537.29 L643.19,534.51 L631.65,528.99 Z" stroke="#2a2a2a" stroke-width="0.5" fill="#2a2a2a" />
<circle cx="642.4" cy="535.9" r="1.8" fill="#2a2a2a"/>
<line x1="847.9" y1="380.3" x2="859.9" y2="386.8" stroke="#555" stroke-width="0.6"/>
<path d="M859.57,387.42 L870.75,394.41 L872.25,391.59 L860.23,386.18 Z" stroke="#2a2a2a" stroke-width="0.5" fill="#2a2a2a" />
<circle cx="871.5" cy="393.0" r="1.8" fill="#2a2a2a"/>
<line x1="847.4" y1="389.6" x2="859.9" y2="396.9" stroke="#555" stroke-width="0.6"/>
<path d="M859.57,397.52 L870.74,404.61 L872.26,401.79 L860.23,396.28 Z" stroke="#2a2a2a" stroke-width="0.5" fill="#2a2a2a" />
<circle cx="871.5" cy="403.2" r="1.8" fill="#2a2a2a"/>
<text x="655.2" y="532.6" font-family="Liberation Sans" font-size="11" font-weight="normal" text-anchor="middle" fill="#1e1e1e"  stroke="#1e1e1e" stroke-width="0.2">C</text>
<text x="655.0" y="545.7" font-family="Liberation Sans" font-size="11" font-weight="normal" text-anchor="middle" fill="#1e1e1e"  stroke="#1e1e1e" stroke-width="0.2">C</text>
<text x="882.7" y="400.6" font-family="Liberation Sans" font-size="11.4" font-weight="normal" text-anchor="middle" fill="#1e1e1e"  stroke="#1e1e1e" stroke-width="0.2">C</text>
<text x="882.7" y="415.0" font-family="Liberation Sans" font-size="11.4" font-weight="normal" text-anchor="middle" fill="#1e1e1e"  stroke="#1e1e1e" stroke-width="0.2">C</text>
<circle cx="968.6" cy="673.4" r="0.6" fill="#aaa"/>
<line x1="0" y1="0.5" x2="1000" y2="0.5" stroke="#e6e6e6" stroke-width="1.0"/>
<circle cx="383" cy="33.5" r="0.6" fill="#999"/>
<path d="M23.3,186.3 L26.7,188.6" stroke="#2a2a2a" stroke-width="1.6" fill="none" stroke-linecap="round"/>
</svg></div></body></html>
